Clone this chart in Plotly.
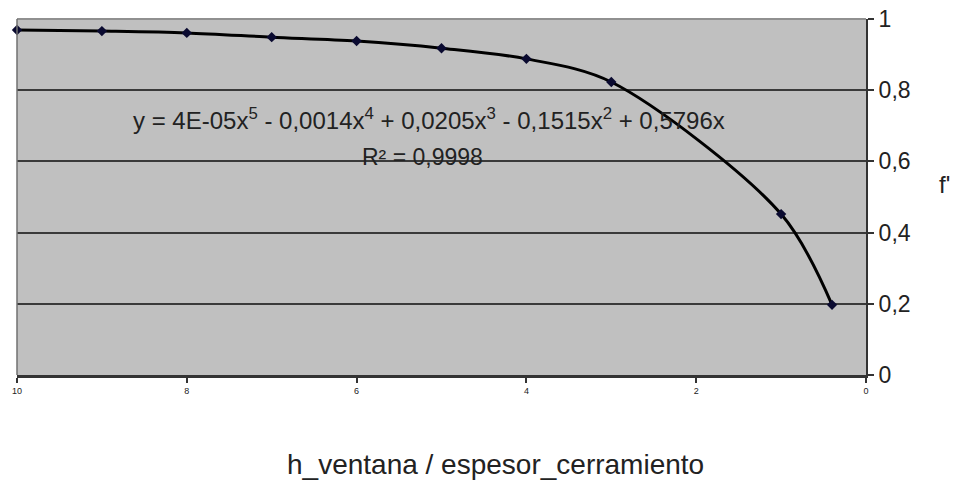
import plotly.graph_objects as go

# Data
ratio = [10, 9, 8, 7, 6, 5, 4, 3, 1, 0.4]
f_val = [0.969, 0.966, 0.961, 0.949, 0.938, 0.918, 0.888, 0.823, 0.452, 0.197]
x_ticks = [10, 8, 6, 4, 2, 0]
y_ticks = [0, 0.2, 0.4, 0.6, 0.8, 1]
y_tick_text = ["0", "0,2", "0,4", "0,6", "0,8", "1"]

FONT = "Liberation Sans, Arial, sans-serif"

fig = go.Figure()
fig.add_trace(go.Scatter(
    x=ratio, y=f_val, mode="lines+markers",
    line=dict(color="#000000", width=3, shape="spline", smoothing=0.9),
    marker=dict(symbol="diamond", size=8, color="#0a0a30"),
    cliponaxis=False, showlegend=False, hoverinfo="x+y",
))

fig.update_layout(
    width=960, height=484,
    margin=dict(l=17, r=94, t=19, b=109, autoexpand=False),
    paper_bgcolor="white", plot_bgcolor="#c0c0c0",
    separators=", ",
    font=dict(family=FONT, color="#222222"),
    xaxis=dict(
        range=[10, 0], tickvals=x_ticks, automargin=False,
        ticks="outside", ticklen=5, tickcolor="#333333", tickwidth=2,
        tickfont=dict(size=9, color="#222222"),
        showgrid=False, zeroline=False,
        showline=True, linecolor="#333333", linewidth=3,
    ),
    yaxis=dict(
        range=[0, 1], tickvals=y_ticks, ticktext=y_tick_text, side="right",
        automargin=False,
        ticks="outside", ticklen=6, tickcolor="#333333", tickwidth=2,
        tickfont=dict(size=23, color="#222222"),
        showgrid=True, gridcolor="#3a3a3a", gridwidth=2,
        zeroline=False,
        showline=True, linecolor="#333333", linewidth=2,
    ),
    shapes=[
        dict(type="line", xref="paper", yref="paper", x0=0, x1=1, y0=1, y1=1,
             line=dict(color="#909090", width=2)),
        dict(type="line", xref="paper", yref="paper", x0=0, x1=0, y0=0, y1=1,
             line=dict(color="#707070", width=1.5)),
    ],
    annotations=[
        dict(xref="paper", yref="paper", x=0.485, y=0.767, showarrow=False,
             text="y = 4E-05x<sup>5</sup> - 0,0014x<sup>4</sup> + 0,0205x<sup>3</sup> - 0,1515x<sup>2</sup> + 0,5796x",
             font=dict(size=24, color="#222222")),
        dict(xref="paper", yref="paper", x=0.478, y=0.612, showarrow=False,
             text="R² = 0,9998",
             font=dict(size=23, color="#222222")),
        dict(xref="paper", yref="paper", x=1.093, y=0.534, showarrow=False,
             xanchor="center", yanchor="middle",
             text="f'", font=dict(size=24, color="#222222")),
        dict(xref="paper", yref="paper", x=0.564, y=-0.25, showarrow=False,
             xanchor="center", yanchor="middle",
             text="h_ventana / espesor_cerramiento",
             font=dict(size=28, color="#222222")),
    ],
)

fig.write_html("out.html",
               config={"displayModeBar": False},
               post_script="document.body.style.margin='0';document.body.style.padding='0';")
